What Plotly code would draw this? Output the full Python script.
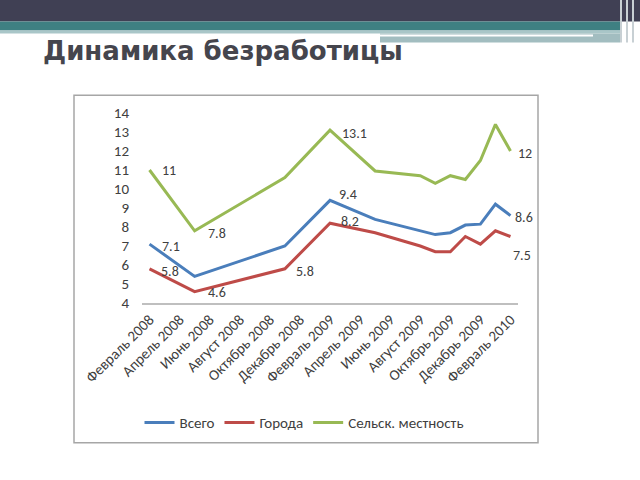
import plotly.graph_objects as go

# ---- data ----
dates = ["2008-02", "2008-05", "2008-11", "2009-02", "2009-05", "2009-08",
         "2009-09", "2009-10", "2009-11", "2009-12", "2010-01", "2010-02"]
total = [7.1, 5.4, 7.0, 9.4, 8.4, 7.8, 7.6, 7.7, 8.1, 8.15, 9.2, 8.6]
cities = [5.8, 4.6, 5.8, 8.2, 7.7, 7.0, 6.7, 6.7, 7.5, 7.1, 7.8, 7.5]
rural = [11, 7.8, 10.6, 13.1, 10.95, 10.7, 10.3, 10.7, 10.5, 11.5, 13.4, 12]
tick_dates = ["2008-02", "2008-04", "2008-06", "2008-08", "2008-10", "2008-12", "2009-02",
              "2009-04", "2009-06", "2009-08", "2009-10", "2009-12", "2010-02"]
tick_labels = ["Февраль 2008", "Апрель 2008", "Июнь 2008", "Август 2008", "Октябрь 2008",
               "Декабрь 2008", "Февраль 2009", "Апрель 2009", "Июнь 2009", "Август 2009",
               "Октябрь 2009", "Декабрь 2009", "Февраль 2010"]
series_names = ["Всего", "Города", "Сельск. местность"]
colors = ["#4A7EBB", "#BE4B48", "#98B954"]
title_text = "Динамика безработицы"
# labelled points: (series index, point index)
labelled = [(2, 0), (2, 1), (0, 0), (1, 0), (1, 1), (1, 2), (2, 3), (0, 3), (1, 3),
            (2, 11), (0, 11), (1, 11)]
label_shift = {(2, 0): (10, 0), (2, 1): (11, -3), (0, 0): (10, -2), (1, 0): (9, -3),
               (1, 1): (11, -1), (1, 2): (9, -3), (2, 3): (10, -3), (0, 3): (7, 6),
               (1, 3): (9, 2), (2, 11): (6, -2), (0, 11): (3, -2), (1, 11): (1, -19)}

FONT = "Carlito, Liberation Sans, sans-serif"
FS = 14
FS_AX = 15


def month_index(s):
    y, m = s.split("-")
    return (int(y) - 2008) * 12 + int(m) - 2


xs = [month_index(d) for d in dates]
tickvals = [month_index(d) for d in tick_dates]
all_series = [total, cities, rural]

W, H = 640, 480
L, R, T, B = 142, 518, 112.7, 303.0


def px(x):
    return (x - L) / (R - L)


def py(y):
    return (B - y) / (B - T)


fig = go.Figure()
for name, vals, c in zip(series_names, all_series, colors):
    fig.add_trace(go.Scatter(x=xs, y=vals, mode="lines", name=name,
                             line=dict(color=c, width=3)))

annotations = []
for (si, pi) in labelled:
    v = all_series[si][pi]
    txt = f"{v:g}"
    dx, dy = label_shift[(si, pi)]
    annotations.append(dict(x=xs[pi], y=v, xref="x", yref="y", text=txt, showarrow=False,
                            xanchor="left", yanchor="middle", xshift=dx, yshift=dy,
                            font=dict(family=FONT, size=FS, color="#404040")))

annotations.append(dict(x=px(41), y=py(51), xref="paper", yref="paper",
                        text="<b>" + title_text + "</b>",
                        showarrow=False, xanchor="left", yanchor="middle",
                        font=dict(family="DejaVu Sans", size=26, color="#45454D")))

shapes = [
    dict(type="rect", xref="paper", yref="paper", x0=px(-5), x1=px(645), y0=py(-5), y1=py(21),
         fillcolor="#404054", line=dict(width=0), layer="below"),
    dict(type="rect", xref="paper", yref="paper", x0=px(-5), x1=px(620), y0=py(21), y1=py(30),
         fillcolor="#3F8082", line=dict(width=0), layer="below"),
    dict(type="rect", xref="paper", yref="paper", x0=px(-5), x1=px(620), y0=py(30), y1=py(33),
         fillcolor="#A9C6C8", line=dict(width=0), layer="below"),
    dict(type="rect", xref="paper", yref="paper", x0=px(380), x1=px(620), y0=py(33), y1=py(42),
         fillcolor="#A2BDC0", line=dict(width=0), layer="below"),
    dict(type="rect", xref="paper", yref="paper", x0=px(380), x1=px(593), y0=py(34), y1=py(36),
         fillcolor="#FFFFFF", line=dict(width=0), layer="below"),
    dict(type="rect", xref="paper", yref="paper", x0=px(620), x1=px(622), y0=py(-5), y1=py(42),
         fillcolor="#C8D0D4", line=dict(width=0), layer="below"),
    dict(type="rect", xref="paper", yref="paper", x0=px(626), x1=px(628), y0=py(-5), y1=py(42),
         fillcolor="#C8D0D4", line=dict(width=0), layer="below"),
    dict(type="rect", xref="paper", yref="paper", x0=px(632), x1=px(634), y0=py(-5), y1=py(42),
         fillcolor="#C8D0D4", line=dict(width=0), layer="below"),
    dict(type="rect", xref="paper", yref="paper", x0=px(74), x1=px(538), y0=py(95), y1=py(443),
         fillcolor="rgba(0,0,0,0)", line=dict(width=1.5, color="#A6A6A6"), layer="below"),
]

fig.update_layout(
    width=W, height=H,
    margin=dict(l=L, r=W - R, t=T, b=H - B, pad=0),
    paper_bgcolor="white", plot_bgcolor="white",
    showlegend=True,
    legend=dict(orientation="h", x=px(304), xanchor="center", y=py(423), yanchor="middle",
                font=dict(family=FONT, size=FS_AX, color="#404040"),
                itemwidth=30, tracegroupgap=0, bgcolor="rgba(0,0,0,0)"),
    xaxis=dict(range=[-0.5, 24.5], tickvals=tickvals, ticktext=tick_labels, tickangle=-45,
               showgrid=False, zeroline=False, showline=True, linecolor="#BFBFBF", linewidth=2,
               ticks="", tickfont=dict(family=FONT, size=FS_AX, color="#404040")),
    yaxis=dict(range=[4, 14], dtick=1, showgrid=False, zeroline=False, showline=False,
               ticks="", ticklabelstandoff=12,
               tickfont=dict(family=FONT, size=FS_AX, color="#404040")),
    annotations=annotations,
    shapes=shapes,
)

fig.write_html("out.html")
